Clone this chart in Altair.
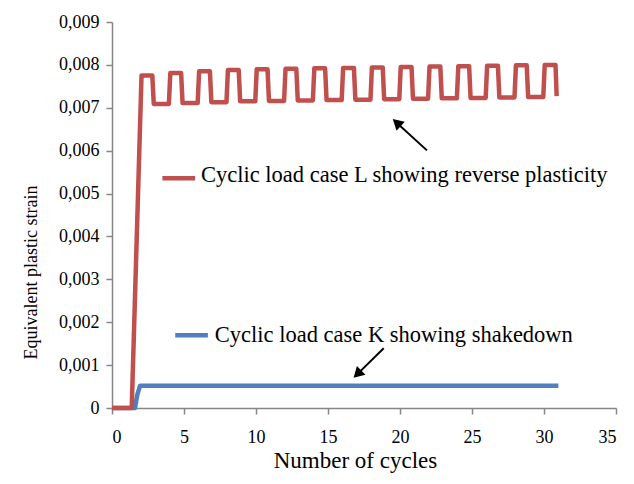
import altair as alt
import pandas as pd

# Red series: cyclic load case L (reverse plasticity)
red_x = [0, 1.37,
         2.05, 2.8, 2.9, 3.95,
         4.05, 4.8, 4.9, 5.95,
         6.05, 6.8, 6.9, 7.95,
         8.05, 8.8, 8.9, 9.95,
         10.05, 10.8, 10.9, 11.95,
         12.05, 12.8, 12.9, 13.95,
         14.05, 14.8, 14.9, 15.95,
         16.05, 16.8, 16.9, 17.95,
         18.05, 18.8, 18.9, 19.95,
         20.05, 20.8, 20.9, 21.95,
         22.05, 22.8, 22.9, 23.95,
         24.05, 24.8, 24.9, 25.95,
         26.05, 26.8, 26.9, 27.95,
         28.05, 28.8, 28.9, 29.95,
         30.05, 30.8, 30.88]
red_y = [0, 0,
         0.00775, 0.00775, 0.00709, 0.00709,
         0.00781, 0.00781, 0.00711, 0.00711,
         0.00785, 0.00785, 0.00713, 0.00713,
         0.00788, 0.00788, 0.00715, 0.00715,
         0.00790, 0.00790, 0.00716, 0.00716,
         0.00791, 0.00791, 0.00717, 0.00717,
         0.00792, 0.00792, 0.00718, 0.00718,
         0.00793, 0.00793, 0.00719, 0.00719,
         0.00794, 0.00794, 0.00720, 0.00720,
         0.00795, 0.00795, 0.00721, 0.00721,
         0.00796, 0.00796, 0.00722, 0.00722,
         0.00797, 0.00797, 0.00723, 0.00723,
         0.00798, 0.00798, 0.00724, 0.00724,
         0.00799, 0.00799, 0.00725, 0.00725,
         0.00800, 0.00800, 0.00727]

# Blue series: cyclic load case K (shakedown)
blue_x = [0, 1.6, 1.75, 1.95, 31.0]
blue_y = [0, 0, 0.0003, 0.00052, 0.00052]

x_ticks = [0, 5, 10, 15, 20, 25, 30, 35]
y_ticks = [0, 0.001, 0.002, 0.003, 0.004, 0.005, 0.006, 0.007, 0.008, 0.009]

label_red = "Cyclic load case L showing reverse plasticity"
label_blue = "Cyclic load case K showing shakedown"

RED = "#C0504D"
BLUE = "#4F81BD"
FONT = "Liberation Serif"

red_df = pd.DataFrame({"x": red_x, "y": red_y})
blue_df = pd.DataFrame({"x": blue_x, "y": blue_y})

xscale = alt.Scale(domain=[0, 35], nice=False, zero=False)
yscale = alt.Scale(domain=[0, 0.009], nice=False)

x_axis = alt.Axis(values=x_ticks, title="Number of cycles", grid=False,
                  labelPadding=14, tickSize=6, titleFontSize=23,
                  titleX=243, titleY=59, titleBaseline="alphabetic",
                  titleAlign="center", labelFontSize=18)
y_axis = alt.Axis(values=y_ticks, title="Equivalent plastic strain", grid=False,
                  labelPadding=7, tickSize=6, titleFontSize=18,
                  titleX=-81, titleY=250, titleAngle=270, titleBaseline="middle",
                  titleAlign="center", labelFontSize=18,
                  labelExpr="datum.value == 0 ? '0' : replace(format(datum.value, '.3f'), '.', ',')")

blue_line = alt.Chart(blue_df).mark_line(color=BLUE, strokeWidth=4.5, strokeJoin="round").encode(
    x=alt.X("x:Q", scale=xscale, axis=x_axis),
    y=alt.Y("y:Q", scale=yscale, axis=y_axis),
)
red_line = alt.Chart(red_df).mark_line(color=RED, strokeWidth=4.5, strokeJoin="round").encode(
    x=alt.X("x:Q", scale=xscale),
    y=alt.Y("y:Q", scale=yscale),
)

# Legend-like annotations inside the plot
leg_df = pd.DataFrame({
    "x": [3.5, 4.39], "x2": [5.77, 6.66], "y": [0.005354, 0.001695],
    "tx": [6.18, 7.14], "ty": [0.00526, 0.00153],
    "label": [label_red, label_blue], "c": [RED, BLUE],
})
leg_lines = alt.Chart(leg_df).mark_rule(strokeWidth=4.5, strokeCap="butt").encode(
    x="x:Q", x2="x2:Q", y="y:Q", color=alt.Color("c:N", scale=None))
leg_text = alt.Chart(leg_df).mark_text(align="left", baseline="alphabetic", font=FONT,
                                       fontSize=22.5, color="black").encode(
    x="tx:Q", y="ty:Q", text="label:N")

# Arrows
arr_df = pd.DataFrame({
    "x": [21.87, 18.87], "y": [0.006007, 0.001392],
    "x2": [19.77, 17.04], "y2": [0.006653, 0.00079],
    "ang": [312, 226],
})
arr_lines = alt.Chart(arr_df).mark_rule(strokeWidth=2, color="black").encode(
    x="x:Q", y="y:Q", x2="x2:Q", y2="y2:Q")
arr_heads = alt.Chart(arr_df).mark_point(shape="triangle-up", filled=True, color="black",
                                         size=150, opacity=1).encode(
    x="x2:Q", y="y2:Q", angle=alt.Angle("ang:Q", scale=None))

chart = alt.layer(blue_line, red_line, leg_lines, leg_text, arr_lines, arr_heads).properties(
    width=504, height=386,
    autosize=alt.AutoSizeParams(type="none"),
    padding={"left": 104, "top": 14, "right": 10, "bottom": 66},
    background="white",
).configure_view(stroke=None).configure_axis(
    domainColor="#868686", tickColor="#868686", domainWidth=1.5, tickWidth=1.5,
    labelFont=FONT, titleFont=FONT, labelColor="black", titleColor="black",
    titleFontWeight="normal",
)

chart.save("out.html", embed_options={"renderer": "svg", "actions": False})
